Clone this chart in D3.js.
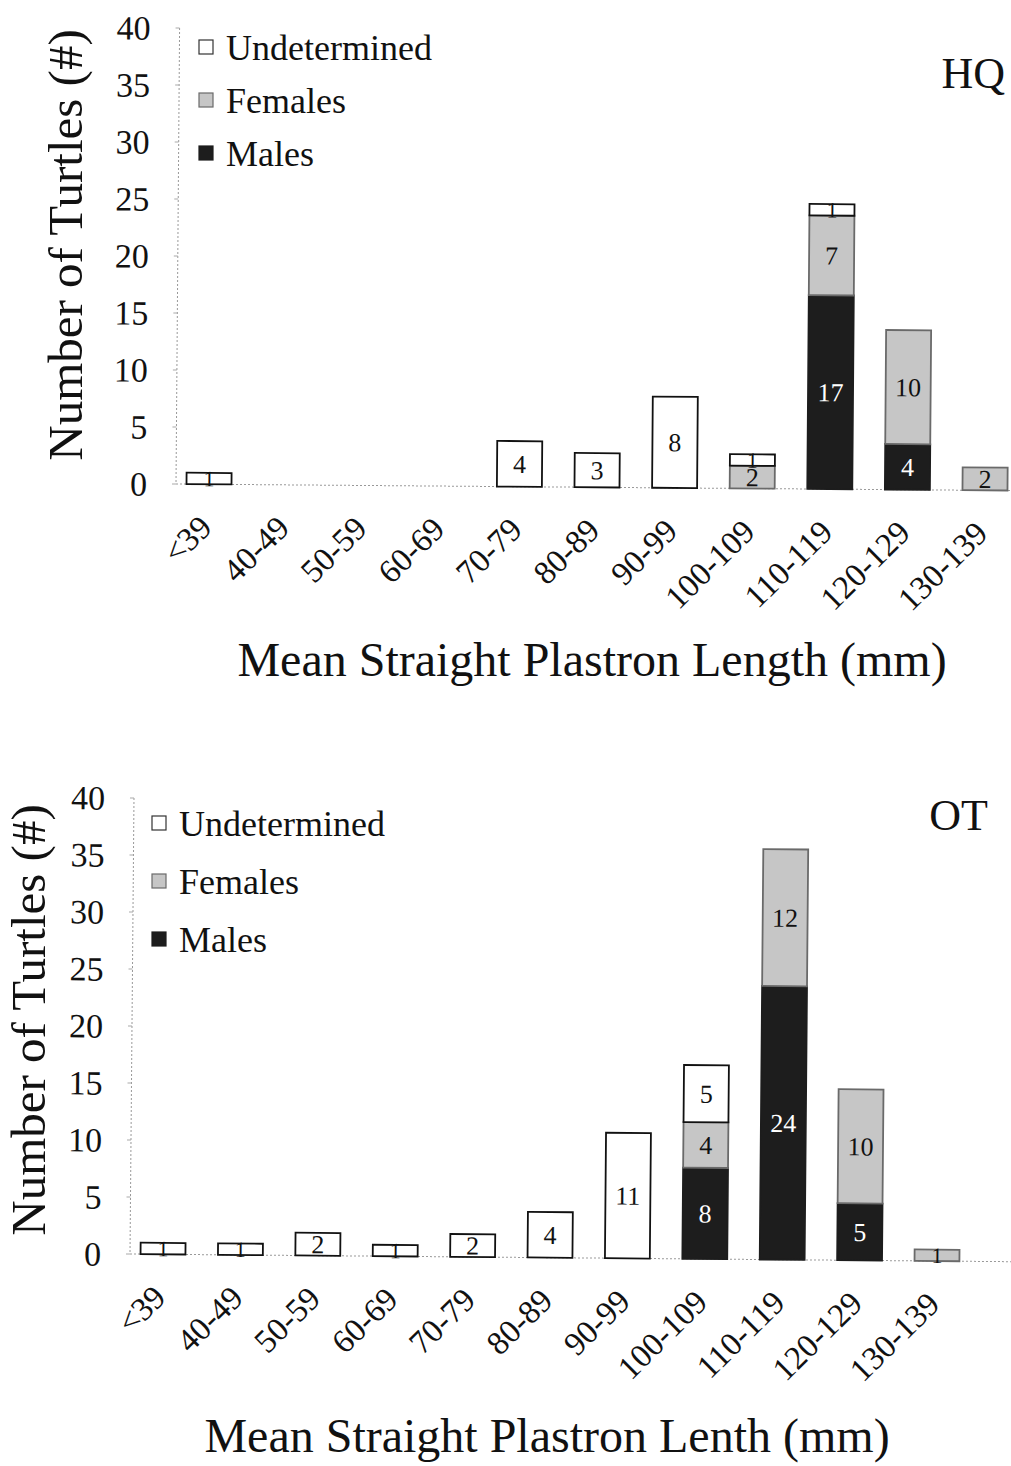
<!DOCTYPE html>
<html>
<head>
<meta charset="utf-8">
<script src="https://cdn.jsdelivr.net/npm/d3@7"></script>
<style>
  body { margin: 0; background: #fff; }
  text { font-family: "Liberation Serif", "Times New Roman", serif; fill: #111; }
</style>
</head>
<body>
<script>
var categories = ["<39", "40-49", "50-59", "60-69", "70-79", "80-89", "90-99",
                  "100-109", "110-119", "120-129", "130-139"];
var keys = ["males", "females", "undet"];
var legendNames = ["Undetermined", "Females", "Males"];
var yTicks = [0, 5, 10, 15, 20, 25, 30, 35, 40];

// HQ site
var hqMales   = [0, 0, 0, 0, 0, 0, 0, 0, 17, 4, 0];
var hqFemales = [0, 0, 0, 0, 0, 0, 0, 2, 7, 10, 2];
var hqUndet   = [1, 0, 0, 0, 4, 3, 8, 1, 1, 0, 0];

// OT site
var otMales   = [0, 0, 0, 0, 0, 0, 0, 8, 24, 5, 0];
var otFemales = [0, 0, 0, 0, 0, 0, 0, 4, 12, 10, 1];
var otUndet   = [1, 1, 2, 1, 2, 4, 11, 5, 0, 0, 0];

var fills = { males: "#1d1d1d", females: "#c6c6c6", undet: "#ffffff" };
var strokes = { males: "#1d1d1d", females: "#6a6a6a", undet: "#111" };
var labelFill = { males: "#fff", females: "#111", undet: "#111" };

var svg = d3.select("body").append("svg")
  .attr("width", 1011)
  .attr("height", 1466);

function drawChart(rows, o) {
  var g = svg.append("g")
    .attr("transform", "rotate(" + o.tilt + " " + o.axisX + " " + o.baseY + ")");

  var x = d3.scaleBand()
    .domain(categories)
    .range([o.firstCenter - o.step / 2, o.firstCenter + (categories.length - 0.5) * o.step])
    .paddingInner(0.42)
    .paddingOuter(0.21);
  var y = d3.scaleLinear()
    .domain([0, 40])
    .range([o.baseY, o.baseY - 456]);

  // axes: faint dotted lines
  g.append("line")
    .attr("x1", o.axisX).attr("x2", o.axisX)
    .attr("y1", y(40)).attr("y2", y(0))
    .attr("stroke", "#999").attr("stroke-width", 1).attr("stroke-dasharray", "2,2");
  g.append("line")
    .attr("x1", o.axisX).attr("x2", 1011)
    .attr("y1", y(0)).attr("y2", y(0))
    .attr("stroke", "#999").attr("stroke-width", 1).attr("stroke-dasharray", "2,2");
  g.selectAll(".ytick")
    .data(yTicks)
    .enter()
    .append("line")
    .attr("x1", o.axisX - 4).attr("x2", o.axisX)
    .attr("y1", function(d) { return y(d); })
    .attr("y2", function(d) { return y(d); })
    .attr("stroke", "#aaa");
  g.selectAll(".ylab")
    .data(yTicks)
    .enter()
    .append("text")
    .attr("x", o.axisX - 29)
    .attr("y", function(d) { return y(d); })
    .attr("dy", "0.35em")
    .attr("text-anchor", "end")
    .attr("font-size", 34)
    .text(function(d) { return d; });

  // stacked bars
  var series = d3.stack().keys(keys)(rows);
  var layer = g.selectAll(".layer")
    .data(series)
    .enter()
    .append("g");
  layer.selectAll("rect")
    .data(function(s) { return s.map(function(p) { p.key = s.key; return p; }); })
    .enter()
    .filter(function(p) { return p[1] > p[0]; })
    .append("rect")
    .attr("x", function(p) { return x(p.data.cat); })
    .attr("width", x.bandwidth())
    .attr("y", function(p) { return y(p[1]); })
    .attr("height", function(p) { return y(p[0]) - y(p[1]); })
    .attr("fill", function(p) { return fills[p.key]; })
    .attr("stroke", function(p) { return strokes[p.key]; })
    .attr("stroke-width", 1.8);
  layer.selectAll("text")
    .data(function(s) { return s.filter(function(p) { return p[1] > p[0]; }); })
    .enter()
    .append("text")
    .attr("x", function(p) { return x(p.data.cat) + x.bandwidth() / 2; })
    .attr("y", function(p) { return (y(p[0]) + y(p[1])) / 2; })
    .attr("dy", "0.35em")
    .attr("text-anchor", "middle")
    .attr("font-size", function(p) { return p[1] - p[0] === 1 ? 22 : 26; })
    .style("fill", function(p) { return labelFill[p.key]; })
    .text(function(p) { return p[1] - p[0]; });

  // rotated category labels
  g.selectAll(".xlab")
    .data(categories)
    .enter()
    .append("text")
    .attr("text-anchor", "end")
    .attr("font-size", 33)
    .attr("transform", function(d) {
      return "translate(" + (x(d) + x.bandwidth() / 2 + 5) + "," + (o.baseY + 45) + ") rotate(-45)";
    })
    .text(function(d) { return d; });

  // legend
  var leg = svg.append("g");
  var legKeys = ["undet", "females", "males"];
  legKeys.forEach(function(k, i) {
    var by = o.legY + i * o.legGap;
    leg.append("rect")
      .attr("x", o.legX).attr("y", by - 20)
      .attr("width", 14).attr("height", 14)
      .attr("fill", fills[k])
      .attr("stroke", k === "undet" ? "#333" : strokes[k])
      .attr("stroke-width", 1.2);
    leg.append("text")
      .attr("x", o.legX + 27).attr("y", by)
      .attr("font-size", 36)
      .text(legendNames[i]);
  });

  svg.append("text")
    .attr("x", o.tagX).attr("y", o.tagY)
    .attr("text-anchor", "end")
    .attr("font-size", 44)
    .text(o.tag);

  svg.append("text")
    .attr("transform", "translate(" + o.yTitleX + "," + o.yTitleY + ") rotate(-90)")
    .attr("text-anchor", "middle")
    .attr("font-size", 49)
    .text("Number of Turtles (#)");

  svg.append("text")
    .attr("x", o.xTitleX).attr("y", o.xTitleY)
    .attr("text-anchor", "middle")
    .attr("font-size", 48)
    .text(o.xTitle);
}

function buildRows(m, f, u) {
  return categories.map(function(c, i) {
    return { cat: c, males: m[i], females: f[i], undet: u[i] };
  });
}

drawChart(buildRows(hqMales, hqFemales, hqUndet), {
  axisX: 176, baseY: 484, firstCenter: 209, step: 77.6, tilt: 0.45,
  legX: 199, legY: 60, legGap: 53,
  tag: "HQ", tagX: 1005, tagY: 88,
  yTitleX: 82, yTitleY: 245,
  xTitle: "Mean Straight Plastron Length (mm)", xTitleX: 592, xTitleY: 676
});

drawChart(buildRows(otMales, otFemales, otUndet), {
  axisX: 130, baseY: 1254, firstCenter: 163, step: 77.4, tilt: 0.5,
  legX: 152, legY: 836, legGap: 58,
  tag: "OT", tagX: 988, tagY: 830,
  yTitleX: 45, yTitleY: 1020,
  xTitle: "Mean Straight Plastron Lenth (mm)", xTitleX: 547, xTitleY: 1452
});
</script>
</body>
</html>
